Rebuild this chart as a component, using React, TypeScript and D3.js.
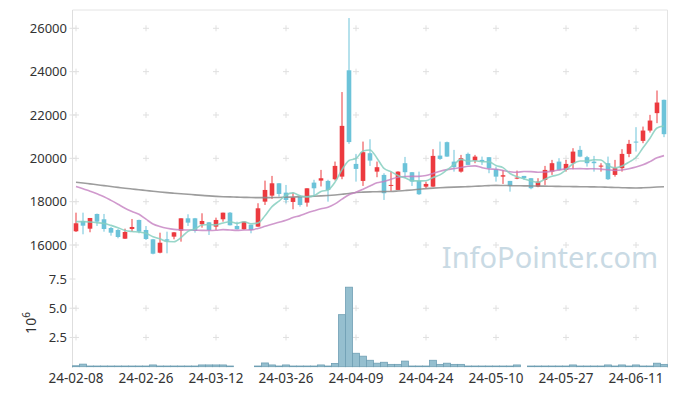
import React from 'react';
import * as d3 from 'd3';

// trading days (YY-MM-DD)
const dates = [
  '24-02-08', '24-02-13', '24-02-14', '24-02-15', '24-02-16', '24-02-19', '24-02-20', '24-02-21', '24-02-22', '24-02-23',
  '24-02-26', '24-02-27', '24-02-28', '24-02-29', '24-03-04', '24-03-05', '24-03-06', '24-03-07', '24-03-08', '24-03-11',
  '24-03-12', '24-03-13', '24-03-14', '24-03-15', '24-03-18', '24-03-19', '24-03-20', '24-03-21', '24-03-22', '24-03-25',
  '24-03-26', '24-03-27', '24-03-28', '24-03-29', '24-04-01', '24-04-02', '24-04-03', '24-04-04', '24-04-05', '24-04-08',
  '24-04-09', '24-04-11', '24-04-12', '24-04-15', '24-04-16', '24-04-17', '24-04-18', '24-04-19', '24-04-22', '24-04-23',
  '24-04-24', '24-04-25', '24-04-26', '24-04-29', '24-04-30', '24-05-02', '24-05-03', '24-05-07', '24-05-08', '24-05-09',
  '24-05-10', '24-05-13', '24-05-14', '24-05-16', '24-05-17', '24-05-20', '24-05-21', '24-05-22', '24-05-23', '24-05-24',
  '24-05-27', '24-05-28', '24-05-29', '24-05-30', '24-05-31', '24-06-03', '24-06-04', '24-06-05', '24-06-07', '24-06-10',
  '24-06-11', '24-06-12', '24-06-13', '24-06-14', '24-06-17',
];

const opens = [
  16633, 17109, 16753, 17432, 17187, 16785, 16693, 16291, 16739, 17155,
  16693, 16263, 15644, 16263, 16385, 16662, 17232, 17232, 16955, 17047,
  16847, 17187, 17492, 16878, 16724, 16940, 16847, 18000, 18278, 18848,
  18417, 17987, 18232, 17955, 18879, 18972, 18957, 19035, 19155, 24062,
  19742, 18957, 20236, 19386, 19234, 18726, 18541, 19775, 19359, 18957,
  18693, 18693, 20126, 20745, 19848, 19386, 20204, 19895, 19927, 20052,
  19497, 19155, 18957, 19082, 19188, 19082, 18693, 19003, 19386, 19848,
  19465, 19775, 20389, 20052, 19848, 19617, 19775, 19234, 19544, 20204,
  20772, 20805, 21281, 22085, 22699,
];
const highs = [
  17492, 17492, 17247, 17450, 17432, 16831, 16739, 16753, 17201, 17170,
  16878, 16280, 16568, 16615, 16600, 17232, 17418, 17250, 17463, 17060,
  17263, 17492, 17520, 17077, 17077, 16940, 17926, 18970, 19188, 18860,
  18771, 18417, 18310, 18617, 19010, 19466, 19010, 19850, 23058, 26473,
  20204, 20772, 20880, 19850, 19312, 19386, 19400, 20065, 19370, 19386,
  18924, 20421, 20772, 20772, 20389, 20158, 20264, 20158, 20079, 20060,
  19617, 19465, 18957, 19433, 19188, 19090, 19082, 19650, 19927, 20006,
  19927, 20467, 20574, 20112, 20112, 19775, 20079, 19927, 20421, 20851,
  21438, 21465, 22006, 23129, 22710,
];
const lows = [
  16600, 16494, 16587, 16878, 16615, 16430, 16308, 16280, 16615, 16540,
  16231, 15570, 15616, 15616, 16263, 16154, 16878, 16570, 16800, 16462,
  16693, 17077, 16900, 16710, 16700, 16540, 16840, 17848, 18125, 18232,
  17925, 17650, 17770, 17770, 18240, 18702, 18000, 18980, 19035, 20666,
  18924, 18726, 19650, 19128, 18080, 18495, 18530, 19082, 18726, 18310,
  18620, 18680, 19927, 20070, 19386, 19340, 19690, 19775, 19696, 19312,
  18924, 18818, 18462, 19035, 19003, 18573, 18666, 18772, 19234, 19433,
  19386, 19497, 20052, 19617, 19386, 19386, 19003, 19155, 19386, 20052,
  20310, 20698, 21188, 21622, 20976,
];
const closes = [
  17002, 16892, 17247, 17077, 16739, 16568, 16370, 16600, 16831, 16615,
  16277, 15598, 16106, 16200, 16585, 17232, 17032, 16647, 17109, 16693,
  17155, 17492, 16910, 16724, 17077, 16693, 17694, 18540, 18848, 18356,
  18078, 18203, 17848, 18617, 18617, 19080, 18540, 19650, 21497, 20750,
  19511, 20283, 19895, 19590, 18389, 18772, 19386, 19359, 18925, 18342,
  18818, 20112, 19973, 20080, 19590, 20006, 19696, 20079, 19848, 19544,
  19155, 19220, 18726, 19109, 19082, 18620, 18924, 19465, 19775, 19465,
  19742, 20310, 20079, 19775, 19775, 19664, 19035, 19544, 20204, 20666,
  20726, 21281, 21743, 22574, 21114,
];

// volume, millions of shares
const volumes = [
  0.08, 0.22, 0.06, 0.06, 0.06, 0.06, 0.06, 0.06, 0.06, 0.06,
  0.06, 0.15, 0.06, 0.06, 0.06, 0.06, 0.06, 0.06, 0.15, 0.15,
  0.15, 0.15, 0.06, 0, 0, 0, 0.06, 0.32, 0.15, 0.06,
  0.15, 0.06, 0.06, 0.06, 0.06, 0.15, 0.06, 0.28, 4.45, 6.8,
  1.15, 0.9, 0.55, 0.3, 0.38, 0.2, 0.2, 0.48, 0.06, 0.06,
  0.06, 0.55, 0.2, 0.3, 0.2, 0.2, 0.06, 0.06, 0.06, 0.06,
  0.06, 0.06, 0.06, 0.15, 0, 0.06, 0.06, 0.06, 0.06, 0.06,
  0.06, 0.15, 0.06, 0.06, 0.06, 0.06, 0.15, 0.06, 0.15, 0.06,
  0.15, 0.06, 0.06, 0.3, 0.2,
];

// moving averages
const ma5 = [
  17080, 17080, 17060, 17030, 16991, 16905, 16800, 16671, 16622, 16597,
  16539, 16384, 16285, 16159, 16153, 16344, 16631, 16739, 16921, 16943,
  16927, 17019, 17072, 16995, 17072, 16979, 17020, 17346, 17770, 18026,
  18303, 18405, 18267, 18220, 18273, 18473, 18540, 18901, 19477, 19903,
  19990, 20338, 20387, 20006, 19534, 19386, 19206, 19099, 18966, 18957,
  18966, 19111, 19234, 19465, 19715, 19952, 19869, 19890, 19844, 19835,
  19664, 19569, 19299, 19151, 19058, 18951, 18892, 19040, 19173, 19250,
  19474, 19751, 19874, 19874, 19936, 19921, 19666, 19559, 19644, 19823,
  20035, 20484, 20924, 21398, 21488,
];
const ma20 = [
  18700, 18600, 18480, 18360, 18230, 18060, 17880, 17695, 17550, 17418,
  17190, 16970, 16850, 16770, 16720, 16700, 16690, 16680, 16675, 16671,
  16679, 16709, 16692, 16674, 16691, 16697, 16764, 16861, 16961, 17048,
  17138, 17269, 17356, 17477, 17578, 17671, 17746, 17896, 18116, 18318,
  18436, 18576, 18725, 18868, 18934, 19038, 19123, 19163, 19167, 19167,
  19204, 19299, 19405, 19478, 19527, 19573, 19631, 19653, 19570, 19510,
  19492, 19439, 19381, 19356, 19391, 19384, 19360, 19366, 19408, 19464,
  19511, 19520, 19526, 19511, 19520, 19503, 19470, 19443, 19461, 19517,
  19595, 19698, 19849, 20022, 20124,
];
const maLong = [
  18897, 18860, 18820, 18780, 18740, 18700, 18660, 18620, 18585, 18550,
  18515, 18480, 18445, 18415, 18390, 18365, 18340, 18315, 18290, 18265,
  18245, 18230, 18220, 18210, 18200, 18190, 18185, 18185, 18190, 18195,
  18205, 18215, 18225, 18235, 18250, 18265, 18285, 18310, 18340, 18375,
  18425, 18440, 18450, 18460, 18465, 18470, 18490, 18515, 18540, 18570,
  18600, 18625, 18645, 18660, 18670, 18680, 18695, 18710, 18725, 18740,
  18750, 18745, 18740, 18735, 18730, 18725, 18720, 18715, 18710, 18705,
  18700, 18695, 18690, 18685, 18680, 18675, 18665, 18655, 18645, 18635,
  18630, 18640, 18655, 18675, 18690,
];

const priceTicks = [16000, 18000, 20000, 22000, 24000, 26000];
const volTicks = [2.5, 5, 7.5];
const xTickLabels = ['24-02-08', '24-02-26', '24-03-12', '24-03-26', '24-04-09', '24-04-24', '24-05-10', '24-05-27', '24-06-11'];

const FONT = '"Noto Sans", sans-serif';
const UP = '#ec3a3f';
const DOWN = '#6cc3d9';

export default function App() {
  const left = 72.5;
  const right = 667.5;
  const top = 10;
  const bottom = 368;

  const x = d3.scaleBand<number>().domain(d3.range(dates.length)).range([left, right]);
  const y = d3.scaleLinear().domain([16000, 26000]).range([245, 28.3]);
  const yv = d3.scaleLinear().domain([0, 7.5]).range([366.7, 279]);
  const cx = (i: number) => (x(i) as number) + x.bandwidth() / 2;
  const bodyW = 4.6;

  const mkLine = (vals: number[]) =>
    d3.line<number>().x((_, i) => cx(i)).y((d) => y(d)).curve(d3.curveMonotoneX)(vals) || '';

  const tickIdx = xTickLabels.map((l) => dates.indexOf(l));

  const cross = (px: number, py: number, k: string) => (
    <path key={k} d={`M${px - 3},${py}H${px + 3}M${px},${py - 3}V${py + 3}`} stroke="#e0e0e0" strokeWidth={1} />
  );

  return (
    <svg width={677} height={396} style={{ position: 'absolute', left: 0, top: 0, background: '#fff' }}>
      {/* frame */}
      <line x1={left} x2={right} y1={top} y2={top} stroke="#e4e4e4" />
      <line x1={right} x2={right} y1={top} y2={bottom} stroke="#e4e4e4" />
      <line x1={left} x2={left} y1={top} y2={bottom} stroke="#dedede" />

      {/* grid crosses */}
      {priceTicks.map((t) => [left, ...tickIdx.map(cx)].map((px, j) => cross(px, y(t), `p${t}-${j}`)))}
      {volTicks.map((t) =>
        (t === 7.5 ? [left] : [left, ...tickIdx.map(cx)]).map((px, j) => cross(px, yv(t), `v${t}-${j}`))
      )}

      {/* watermark */}
      <text x={550} y={268} textAnchor="middle" fontFamily={FONT} fontSize={29} fill="#c9dae4">
        InfoPointer.com
      </text>

      {/* y labels */}
      {priceTicks.map((t) => (
        <text key={t} x={67} y={y(t)} dy="0.35em" textAnchor="end" fontFamily={FONT} fontSize={13} fill="#333">
          {t}
        </text>
      ))}
      {volTicks.map((t) => (
        <text key={t} x={67} y={yv(t)} dy="0.35em" textAnchor="end" fontFamily={FONT} fontSize={13} fill="#333">
          {t.toFixed(1)}
        </text>
      ))}
      <text transform="translate(36,323) rotate(-90)" textAnchor="middle" fontFamily={FONT} fontSize={14} fill="#333">
        10<tspan dy={-6} fontSize={10}>6</tspan>
      </text>

      {/* volume */}
      {volumes.map((v, i) =>
        v > 0 ? (
          <rect key={i} x={x(i)} y={yv(v)} width={x.bandwidth()} height={yv(0) - yv(v)}
            fill="#95bfcf" stroke="#6f9fb3" strokeWidth={0.8} />
        ) : null
      )}

      {/* candles */}
      {dates.map((d, i) => {
        const up = closes[i] >= opens[i];
        const c = up ? UP : DOWN;
        const yt = y(Math.max(opens[i], closes[i]));
        const yb = y(Math.min(opens[i], closes[i]));
        return (
          <g key={d}>
            <line x1={cx(i)} x2={cx(i)} y1={y(highs[i])} y2={y(lows[i])} stroke={c} strokeWidth={1} />
            <rect x={cx(i) - bodyW / 2} y={yt} width={bodyW} height={Math.max(1, yb - yt)} fill={c} />
          </g>
        );
      })}

      {/* moving averages */}
      <path d={mkLine(maLong)} fill="none" stroke="#8c8c8c" strokeWidth={1.6} strokeOpacity={0.85} />
      <path d={mkLine(ma20)} fill="none" stroke="#c47fc0" strokeWidth={1.6} strokeOpacity={0.8} />
      <path d={mkLine(ma5)} fill="none" stroke="#86cfbf" strokeWidth={1.6} strokeOpacity={0.85} />

      {/* x labels */}
      {tickIdx.map((i, j) => (
        <text key={j} x={cx(i)} y={383} textAnchor="middle" fontFamily={FONT} fontSize={13.5} fill="#333">
          {xTickLabels[j]}
        </text>
      ))}
    </svg>
  );
}
